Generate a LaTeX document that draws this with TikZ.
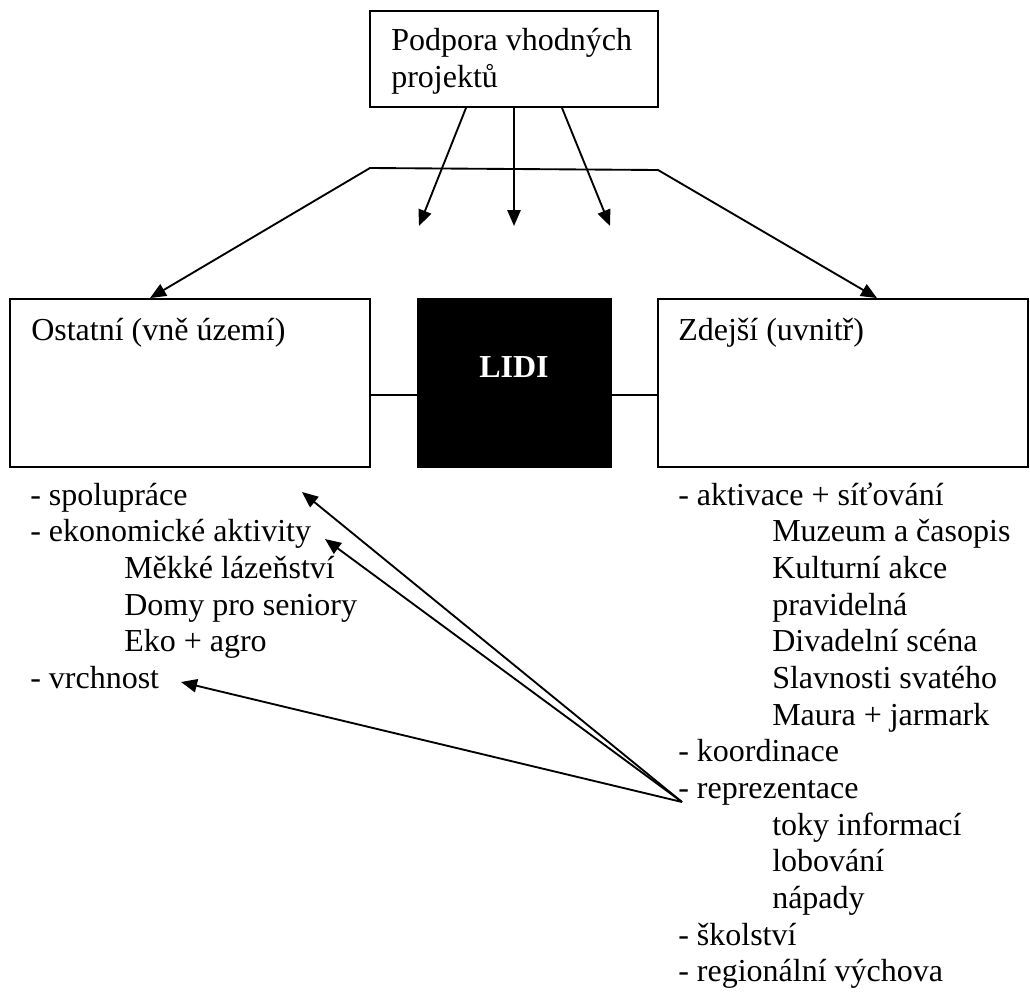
\documentclass[tikz,border=0pt]{standalone}
\usepackage{fontspec}
\setmainfont{Liberation Serif}
\usetikzlibrary{arrows.meta}

\begin{document}
\begin{tikzpicture}[x=0.75pt,y=0.75pt,yscale=-1,xscale=1,
  box/.style={draw,line width=1.4pt,inner sep=0pt},
  txt/.style={anchor=base west,inner sep=0pt,font=\fontsize{24}{27.5}\selectfont},
  tip/.style={-{Triangle[length=12pt,width=10pt]},line width=1.4pt}]
\useasboundingbox (0,0) rectangle (1030,992);

%Shape: Rectangle [top]
\node (podpora) [box,minimum width=216pt,minimum height=72pt] at (514,59) {};
%Shape: Rectangle [left]
\node (ostatni) [box,minimum width=270pt,minimum height=126pt] at (190,383) {};
%Shape: Rectangle [middle]
\node (lidi) [box,fill=black,minimum width=144.75pt,minimum height=126pt] at (514.5,383) {};
%Shape: Rectangle [right]
\node (zdejsi) [box,minimum width=277.5pt,minimum height=126pt] at (843,383) {};

%Straight Lines [arrows down]
\coordinate (d1) at (419,226);
\coordinate (d2) at (514,226);
\coordinate (d3) at (610,226);
\draw [tip] ([xshift=-36pt]podpora.south) -- (d1) ;
\draw [tip] (podpora.south) -- (d2) ;
\draw [tip] ([xshift=36pt]podpora.south) -- (d3) ;

%Straight Lines [roof]
\coordinate (rl) at (370,168);
\coordinate (rr) at (658,170);
\draw [{Triangle[length=12pt,width=10pt]}-{Triangle[length=12pt,width=10pt]},line width=1.4pt]
  ([xshift=-30pt]ostatni.north) -- (rl) -- (rr) -- ([xshift=25.5pt]zdejsi.north) ;

%Straight Lines [links]
\draw [line width=1pt] ([yshift=9pt]ostatni.east) -- ([yshift=9pt]lidi.west) ;
\draw [line width=1pt] ([yshift=9pt]lidi.east) -- ([yshift=9pt]zdejsi.west) ;

%Straight Lines [from reprezentace]
\coordinate (rep) at (682,802);
\coordinate (spol) at (302,492);
\coordinate (ekon) at (325,539);
\coordinate (vrch) at (181,682);
\draw [tip] (rep) -- (spol) ;
\draw [tip] (rep) -- (ekon) ;
\draw [tip] (rep) -- (vrch) ;

% Text Node
\node (t1) [txt] at (391,50) {Podpora vhodných};
% Text Node
\node (t2) [txt] at (391,87) {projektů};
% Text Node
\node (t3) [txt] at (31,340) {Ostatní (vně území)};
% Text Node
\node (t4) [txt] at (678,340) {Zdejší (uvnitř)};
% Text Node
\node (t5) [txt,anchor=base,text=white,font=\fontsize{24}{27.5}\selectfont\bfseries] at (514,377) {LIDI};

% Text Node
\node (l1) [txt] at (30,505) {- spolupráce};
% Text Node
\node (l2) [txt] at (30,541.7) {- ekonomické aktivity};
% Text Node
\node (l3) [txt] at (124,578.3) {Měkké lázeňství};
% Text Node
\node (l4) [txt] at (124,615) {Domy pro seniory};
% Text Node
\node (l5) [txt] at (124,651.7) {Eko + agro};
% Text Node
\node (l6) [txt] at (30,688.3) {- vrchnost};

% Text Node
\node (r1) [txt] at (678,505) {- aktivace + síťování};
% Text Node
\node (r2) [txt] at (772,541.7) {Muzeum a časopis};
% Text Node
\node (r3) [txt] at (772,578.3) {Kulturní akce};
% Text Node
\node (r4) [txt] at (772,615) {pravidelná};
% Text Node
\node (r5) [txt] at (772,651.7) {Divadelní scéna};
% Text Node
\node (r6) [txt] at (772,688.3) {Slavnosti svatého};
% Text Node
\node (r7) [txt] at (772,725) {Maura + jarmark};
% Text Node
\node (r8) [txt] at (678,761.7) {- koordinace};
% Text Node
\node (r9) [txt] at (678,798.3) {- reprezentace};
% Text Node
\node (r10) [txt] at (772,835) {toky informací};
% Text Node
\node (r11) [txt] at (772,871.7) {lobování};
% Text Node
\node (r12) [txt] at (772,908.3) {nápady};
% Text Node
\node (r13) [txt] at (678,945) {- školství};
% Text Node
\node (r14) [txt] at (678,981.7) {- regionální výchova};

\end{tikzpicture}
\end{document}
